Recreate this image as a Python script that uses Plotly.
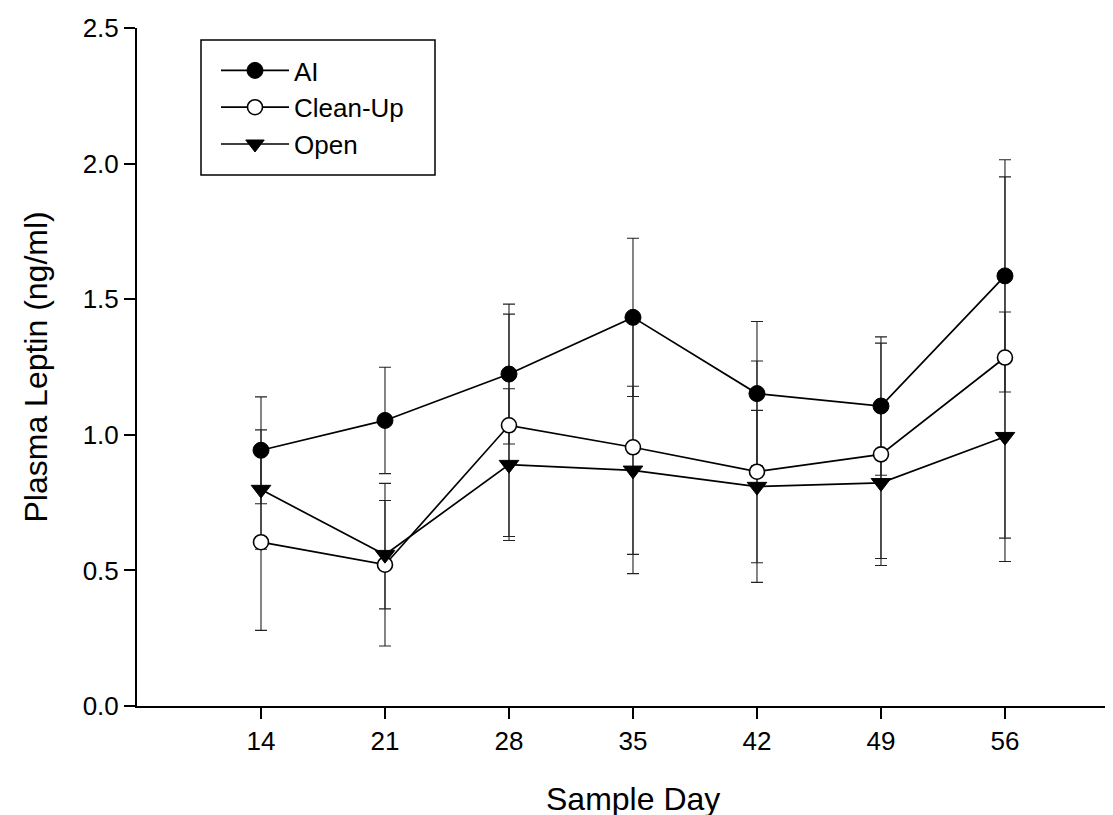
import plotly.graph_objects as go

# ---- data ----
days = [14, 21, 28, 35, 42, 49, 56]
ai = [0.943, 1.053, 1.224, 1.433, 1.152, 1.106, 1.586]
ai_err = [0.197, 0.196, 0.258, 0.292, 0.266, 0.255, 0.428]
clean = [0.604, 0.521, 1.035, 0.954, 0.864, 0.928, 1.285]
clean_err = [0.325, 0.300, 0.410, 0.466, 0.408, 0.410, 0.666]
open_ = [0.798, 0.558, 0.890, 0.869, 0.809, 0.823, 0.993]
open_err = [0.220, 0.200, 0.280, 0.310, 0.281, 0.279, 0.460]
x_ticks = [14, 21, 28, 35, 42, 49, 56]
y_ticks = [0.0, 0.5, 1.0, 1.5, 2.0, 2.5]

FONT = "Liberation Sans, Arial, Helvetica, sans-serif"
W, H = 1113, 815
L, R, T, B = 129, 0, 20, 117
PW, PH = W - L - R, H - T - B


def px_x(px):
    return (px - L) / PW


def px_y(px):
    return (H - B - px) / PH


series = [
    ("AI", ai, ai_err, dict(symbol="circle", size=16, color="black",
                             line=dict(color="black", width=1))),
    ("Clean-Up", clean, clean_err, dict(symbol="circle", size=15, color="white",
                                         line=dict(color="black", width=1.6))),
    ("Open", open_, open_err, dict(symbol="triangle-down", size=17, color="black",
                                    line=dict(color="black", width=1))),
]

fig = go.Figure()

# error bars first, so that every marker sits on top of them
for name, vals, errs, _ in series:
    fig.add_trace(go.Scatter(
        x=days, y=vals, mode="markers",
        marker=dict(size=1, color="rgba(0,0,0,0)"),
        error_y=dict(type="data", array=errs, visible=True,
                     color="#222222", thickness=1.1, width=6),
        showlegend=False, hoverinfo="skip",
    ))

for name, vals, errs, mk in series:
    fig.add_trace(go.Scatter(
        x=days, y=vals, mode="lines+markers", name=name,
        line=dict(color="black", width=1.7),
        marker=mk,
    ))

fig.update_layout(
    width=W, height=H,
    margin=dict(l=L, r=R, t=T, b=B, pad=0),
    paper_bgcolor="white", plot_bgcolor="white",
    font=dict(family=FONT, size=26, color="black"),
    showlegend=True,
    legend=dict(
        x=px_x(208), y=px_y(39),
        xanchor="left", yanchor="top",
        bgcolor="rgba(0,0,0,0)", borderwidth=0,
        font=dict(family=FONT, size=26, color="black"),
        itemwidth=68, tracegroupgap=0,
    ),
    # legend frame
    shapes=[dict(type="rect", xref="paper", yref="paper",
                 x0=px_x(193), x1=px_x(427), y0=px_y(167), y1=px_y(32),
                 line=dict(color="black", width=1.5),
                 fillcolor="rgba(0,0,0,0)", layer="above")],
    xaxis=dict(
        range=[7, 62.55], tickmode="array", tickvals=x_ticks,
        ticktext=[str(v) for v in x_ticks],
        showgrid=False, zeroline=False,
        showline=True, linecolor="black", linewidth=2,
        ticks="outside", ticklen=11, tickwidth=1.5, tickcolor="black",
        tickfont=dict(family=FONT, size=26, color="black"),
    ),
    yaxis=dict(
        range=[0, 2.5], tickmode="array", tickvals=y_ticks,
        ticktext=[f"{v:.1f}" for v in y_ticks],
        showgrid=False, zeroline=False,
        showline=True, linecolor="black", linewidth=2,
        ticks="outside", ticklen=11, tickwidth=1.5, tickcolor="black",
        tickfont=dict(family=FONT, size=26, color="black"),
    ),
    annotations=[
        dict(text="Plasma Leptin (ng/ml)", xref="paper", yref="paper",
             x=px_x(27.5), y=0.5, xanchor="center", yanchor="middle",
             textangle=-90, showarrow=False,
             font=dict(family=FONT, size=32, color="black")),
        dict(text="Sample Day", xref="paper", yref="paper",
             x=px_x(625), y=px_y(791),
             xanchor="center", yanchor="middle", showarrow=False,
             font=dict(family=FONT, size=32, color="black")),
    ],
)

fig.write_html("out.html")
